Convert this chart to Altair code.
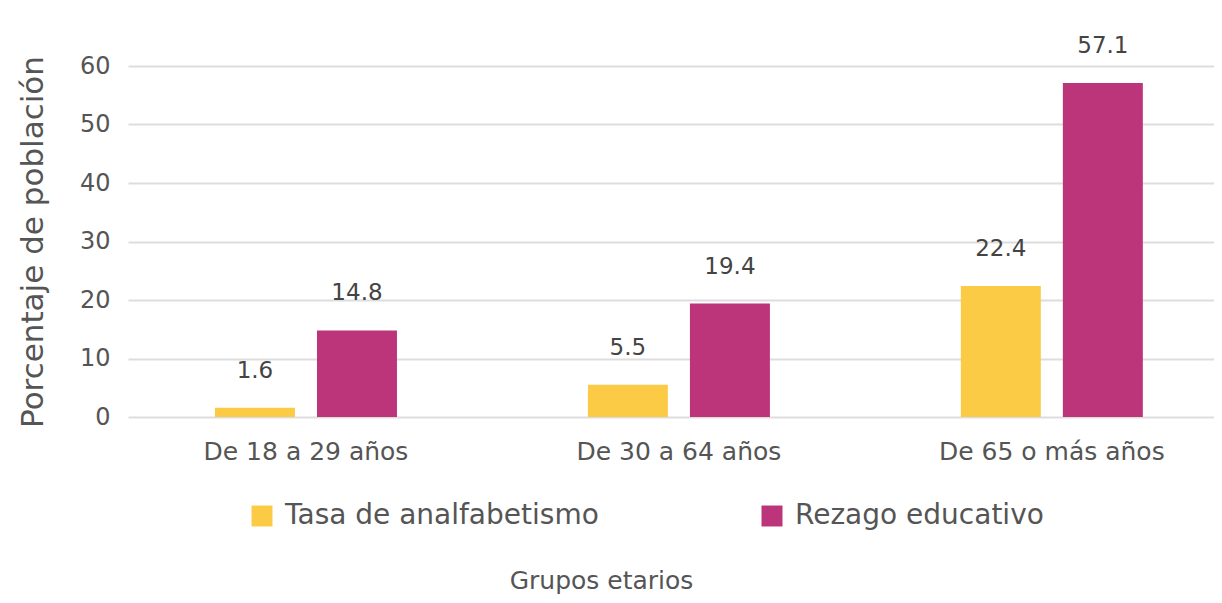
import altair as alt
import pandas as pd

grupos = ["De 18 a 29 años", "De 30 a 64 años", "De 65 o más años"]
series = ["Tasa de analfabetismo", "Rezago educativo"]
analfabetismo = [1.6, 5.5, 22.4]
rezago = [14.8, 19.4, 57.1]
colores = ["#FCCB45", "#BC3479"]
y_ticks = [0, 10, 20, 30, 40, 50, 60]

rows = []
for i, g in enumerate(grupos):
    rows.append({"grupo": g, "serie": series[0], "valor": analfabetismo[i]})
    rows.append({"grupo": g, "serie": series[1], "valor": rezago[i]})
df = pd.DataFrame(rows)

FONT = "DejaVu Sans"
TXT = "#555555"

x = alt.X(
    "grupo:N",
    sort=grupos,
    scale=alt.Scale(paddingInner=0.512, paddingOuter=0.212, align=0.55),
    axis=alt.Axis(
        title="Grupos etarios",
        labelAngle=0,
        labelFont=FONT,
        labelFontSize=25,
        labelColor=TXT,
        labelPadding=22,
        labelLimit=500,
        ticks=False,
        domain=False,
        titleFont=FONT,
        titleFontSize=25,
        titleFontWeight="normal",
        titleColor=TXT,
        titleX=473,
        titleY=151,
        titleBaseline="top",
        titleAnchor="start",
        titleAlign="center",
    ),
)
xo = alt.XOffset("serie:N", sort=series, scale=alt.Scale(paddingInner=0.216, paddingOuter=0))
y = alt.Y(
    "valor:Q",
    scale=alt.Scale(domain=[0, 60], nice=False),
    axis=alt.Axis(
        title="Porcentaje de población",
        values=y_ticks,
        labelFont=FONT,
        labelFontSize=24,
        labelColor=TXT,
        labelPadding=18,
        ticks=False,
        domain=False,
        gridColor="#DDDDDD",
        gridWidth=2,
        titleFont=FONT,
        titleFontSize=31,
        titleFontWeight="normal",
        titleColor=TXT,
        titlePadding=30,
    ),
)
color = alt.Color(
    "serie:N",
    sort=series,
    scale=alt.Scale(domain=series, range=colores),
    legend=alt.Legend(
        title=None,
        orient="none",
        legendX=120,
        legendY=436,
        direction="horizontal",
        symbolType="square",
        symbolSize=440,
        symbolStrokeWidth=0,
        labelFont=FONT,
        labelFontSize=28,
        labelColor=TXT,
        labelOffset=9,
        columnPadding=159,
        labelLimit=500,
    ),
)

bars = alt.Chart(df).mark_bar().encode(x=x, xOffset=xo, y=y, color=color)
labels = alt.Chart(df).mark_text(
    baseline="bottom", dy=-25, font=FONT, fontSize=23, color="#444444", fontWeight=500
).encode(x=x, xOffset=xo, y=y, text=alt.Text("valor:Q", format=".1f"))

chart = (
    alt.layer(bars, labels)
    .properties(
        width=1086,
        height=351,
        autosize=alt.AutoSizeParams(type="none"),
        padding={"left": 120, "top": 58, "right": 0, "bottom": 178},
    )
    .configure_view(stroke=None)
)

chart.save("out.html", embed_options={"renderer": "svg", "actions": False})
